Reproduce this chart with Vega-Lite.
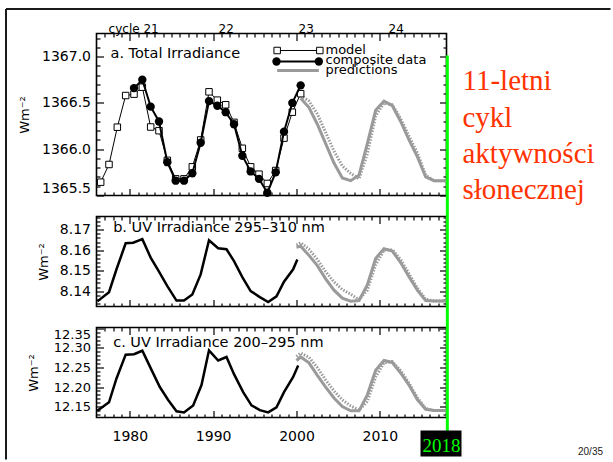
{
  "$schema": "https://vega.github.io/schema/vega-lite/v6.json",
  "background": "white",
  "padding": {"left": 3.5, "top": 6.5, "right": 0, "bottom": 0},
  "autosize": {"type": "pad"},
  "bounds": "flush",
  "spacing": 21,
  "datasets": {
    "one": [{"k": 1}],
    "tsiModel": [
      {"year": 1976.5, "value": 1365.644}, {"year": 1977.5, "value": 1365.835}, {"year": 1978.5, "value": 1366.238},
      {"year": 1979.5, "value": 1366.58}, {"year": 1980.5, "value": 1366.595}, {"year": 1981.5, "value": 1366.67},
      {"year": 1982.5, "value": 1366.24}, {"year": 1983.5, "value": 1366.2}, {"year": 1984.5, "value": 1365.88},
      {"year": 1985.5, "value": 1365.68}, {"year": 1986.5, "value": 1365.68}, {"year": 1987.5, "value": 1365.81},
      {"year": 1988.5, "value": 1366.1}, {"year": 1989.5, "value": 1366.62}, {"year": 1990.5, "value": 1366.53},
      {"year": 1991.5, "value": 1366.48}, {"year": 1992.5, "value": 1366.29}, {"year": 1993.5, "value": 1366.01},
      {"year": 1994.5, "value": 1365.81}, {"year": 1995.5, "value": 1365.73}, {"year": 1996.5, "value": 1365.63},
      {"year": 1997.5, "value": 1365.77}, {"year": 1998.5, "value": 1366.12}, {"year": 1999.5, "value": 1366.4},
      {"year": 2000.5, "value": 1366.6}
    ],
    "tsiComp": [
      {"year": 1980.5, "value": 1366.66}, {"year": 1981.5, "value": 1366.75}, {"year": 1982.5, "value": 1366.46},
      {"year": 1983.5, "value": 1366.3}, {"year": 1984.5, "value": 1365.86}, {"year": 1985.5, "value": 1365.66},
      {"year": 1986.5, "value": 1365.66}, {"year": 1987.5, "value": 1365.74}, {"year": 1988.5, "value": 1366.07},
      {"year": 1989.5, "value": 1366.52}, {"year": 1990.5, "value": 1366.47}, {"year": 1991.5, "value": 1366.4},
      {"year": 1992.5, "value": 1366.27}, {"year": 1993.5, "value": 1365.93}, {"year": 1994.5, "value": 1365.76},
      {"year": 1995.5, "value": 1365.68}, {"year": 1996.5, "value": 1365.53}, {"year": 1997.5, "value": 1365.75},
      {"year": 1998.5, "value": 1366.19}, {"year": 1999.5, "value": 1366.5}, {"year": 2000.5, "value": 1366.69}
    ],
    "tsiPred1": [
      {"year": 2000.5, "value": 1366.55}, {"year": 2001.5, "value": 1366.45}, {"year": 2002.5, "value": 1366.27},
      {"year": 2003.5, "value": 1366.06}, {"year": 2004.5, "value": 1365.85}, {"year": 2005.5, "value": 1365.69},
      {"year": 2006.5, "value": 1365.66}, {"year": 2007.5, "value": 1365.72}, {"year": 2008.5, "value": 1366.06},
      {"year": 2009.5, "value": 1366.42}, {"year": 2010.5, "value": 1366.52}, {"year": 2011.5, "value": 1366.47},
      {"year": 2012.5, "value": 1366.3}, {"year": 2013.5, "value": 1366.1}, {"year": 2014.5, "value": 1365.92},
      {"year": 2015.5, "value": 1365.7}, {"year": 2016.5, "value": 1365.66}, {"year": 2017.5, "value": 1365.66},
      {"year": 2018.0, "value": 1365.66}
    ],
    "tsiPred2": [
      {"year": 2000.5, "value": 1366.58}, {"year": 2001.5, "value": 1366.52}, {"year": 2002.5, "value": 1366.38},
      {"year": 2003.5, "value": 1366.18}, {"year": 2004.5, "value": 1365.98}, {"year": 2005.5, "value": 1365.82},
      {"year": 2006.5, "value": 1365.74}, {"year": 2007.5, "value": 1365.68}, {"year": 2008.5, "value": 1365.95},
      {"year": 2009.5, "value": 1366.36}, {"year": 2010.5, "value": 1366.5}, {"year": 2011.5, "value": 1366.48},
      {"year": 2012.5, "value": 1366.33}, {"year": 2013.5, "value": 1366.14}, {"year": 2014.5, "value": 1365.96},
      {"year": 2015.5, "value": 1365.72}, {"year": 2016.5, "value": 1365.66}, {"year": 2017.5, "value": 1365.66},
      {"year": 2018.0, "value": 1365.66}
    ],
    "uvbData": [
      {"year": 1976.1, "value": 8.135}, {"year": 1977.5, "value": 8.1395}, {"year": 1978.4, "value": 8.1507},
      {"year": 1979.5, "value": 8.1634}, {"year": 1980.4, "value": 8.1637}, {"year": 1981.5, "value": 8.1654},
      {"year": 1982.5, "value": 8.1564}, {"year": 1983.5, "value": 8.1495}, {"year": 1984.5, "value": 8.1425},
      {"year": 1985.6, "value": 8.1354}, {"year": 1986.5, "value": 8.1354}, {"year": 1987.5, "value": 8.1384},
      {"year": 1988.5, "value": 8.1482}, {"year": 1989.5, "value": 8.1649}, {"year": 1990.6, "value": 8.161},
      {"year": 1991.6, "value": 8.1605}, {"year": 1992.5, "value": 8.1547}, {"year": 1993.5, "value": 8.1469},
      {"year": 1994.5, "value": 8.14}, {"year": 1995.6, "value": 8.1371}, {"year": 1996.6, "value": 8.1347},
      {"year": 1997.6, "value": 8.1375}, {"year": 1998.5, "value": 8.1446}, {"year": 1999.6, "value": 8.1507},
      {"year": 2000.1, "value": 8.1555}
    ],
    "uvbPred1": [
      {"year": 2000.0, "value": 8.1615}, {"year": 2000.5, "value": 8.162}, {"year": 2001.5, "value": 8.1575},
      {"year": 2002.5, "value": 8.1525}, {"year": 2003.5, "value": 8.146}, {"year": 2004.5, "value": 8.1405},
      {"year": 2005.5, "value": 8.1366}, {"year": 2006.5, "value": 8.1351}, {"year": 2007.5, "value": 8.1354},
      {"year": 2008.5, "value": 8.143}, {"year": 2009.5, "value": 8.156}, {"year": 2010.5, "value": 8.1608},
      {"year": 2011.5, "value": 8.1596}, {"year": 2012.5, "value": 8.154}, {"year": 2013.5, "value": 8.147},
      {"year": 2014.5, "value": 8.1405}, {"year": 2015.5, "value": 8.1354}, {"year": 2016.5, "value": 8.1352},
      {"year": 2017.5, "value": 8.1352}, {"year": 2018.0, "value": 8.1352}
    ],
    "uvbPred2": [
      {"year": 2000.0, "value": 8.1625}, {"year": 2000.5, "value": 8.1637}, {"year": 2001.5, "value": 8.1605},
      {"year": 2002.5, "value": 8.1555}, {"year": 2003.5, "value": 8.1495}, {"year": 2004.5, "value": 8.1445},
      {"year": 2005.5, "value": 8.1408}, {"year": 2006.5, "value": 8.1385}, {"year": 2007.5, "value": 8.1358},
      {"year": 2008.5, "value": 8.1405}, {"year": 2009.5, "value": 8.153}, {"year": 2010.5, "value": 8.16},
      {"year": 2011.5, "value": 8.1602}, {"year": 2012.5, "value": 8.1555}, {"year": 2013.5, "value": 8.1485},
      {"year": 2014.5, "value": 8.1415}, {"year": 2015.5, "value": 8.136}, {"year": 2016.5, "value": 8.1352},
      {"year": 2017.5, "value": 8.1352}, {"year": 2018.0, "value": 8.1352}
    ],
    "uvcData": [
      {"year": 1976.1, "value": 12.139}, {"year": 1977.5, "value": 12.161}, {"year": 1978.4, "value": 12.222},
      {"year": 1979.5, "value": 12.283}, {"year": 1980.5, "value": 12.284}, {"year": 1981.5, "value": 12.293},
      {"year": 1982.6, "value": 12.244}, {"year": 1983.6, "value": 12.2}, {"year": 1984.6, "value": 12.167},
      {"year": 1985.6, "value": 12.138}, {"year": 1986.5, "value": 12.135}, {"year": 1987.6, "value": 12.153},
      {"year": 1988.6, "value": 12.205}, {"year": 1989.5, "value": 12.294}, {"year": 1990.6, "value": 12.268},
      {"year": 1991.6, "value": 12.277}, {"year": 1992.5, "value": 12.233}, {"year": 1993.6, "value": 12.187},
      {"year": 1994.6, "value": 12.153}, {"year": 1995.6, "value": 12.141}, {"year": 1996.6, "value": 12.135},
      {"year": 1997.6, "value": 12.148}, {"year": 1998.5, "value": 12.187}, {"year": 1999.6, "value": 12.226},
      {"year": 2000.2, "value": 12.255}
    ],
    "uvcPred1": [
      {"year": 2000.0, "value": 12.268}, {"year": 2000.5, "value": 12.277}, {"year": 2001.5, "value": 12.262},
      {"year": 2002.5, "value": 12.23}, {"year": 2003.5, "value": 12.2}, {"year": 2004.5, "value": 12.172},
      {"year": 2005.5, "value": 12.15}, {"year": 2006.5, "value": 12.139}, {"year": 2007.5, "value": 12.139},
      {"year": 2008.5, "value": 12.18}, {"year": 2009.5, "value": 12.243}, {"year": 2010.5, "value": 12.268},
      {"year": 2011.5, "value": 12.263}, {"year": 2012.5, "value": 12.236}, {"year": 2013.5, "value": 12.205},
      {"year": 2014.5, "value": 12.168}, {"year": 2015.5, "value": 12.143}, {"year": 2016.5, "value": 12.14},
      {"year": 2017.5, "value": 12.14}, {"year": 2018.0, "value": 12.14}
    ],
    "uvcPred2": [
      {"year": 2000.0, "value": 12.278}, {"year": 2000.5, "value": 12.287}, {"year": 2001.5, "value": 12.276},
      {"year": 2002.5, "value": 12.25}, {"year": 2003.5, "value": 12.218}, {"year": 2004.5, "value": 12.19},
      {"year": 2005.5, "value": 12.167}, {"year": 2006.5, "value": 12.152}, {"year": 2007.5, "value": 12.141},
      {"year": 2008.5, "value": 12.163}, {"year": 2009.5, "value": 12.226}, {"year": 2010.5, "value": 12.262},
      {"year": 2011.5, "value": 12.265}, {"year": 2012.5, "value": 12.242}, {"year": 2013.5, "value": 12.21},
      {"year": 2014.5, "value": 12.173}, {"year": 2015.5, "value": 12.145}, {"year": 2016.5, "value": 12.14},
      {"year": 2017.5, "value": 12.14}, {"year": 2018.0, "value": 12.14}
    ]
  },
  "vconcat": [
    {
      "width": 350,
      "height": 162,
      "resolve": {"axis": {"x": "independent", "y": "independent"}},
      "layer": [
        {
          "data": {"name": "tsiPred2"},
          "mark": {"type": "line", "color": "#9a9a9a", "strokeWidth": 3, "strokeDash": [1.5, 1.5]},
          "encoding": {
            "x": {"field": "year", "type": "quantitative", "scale": {"domain": [1976, 2018], "nice": false, "zero": false},
              "axis": {"orient": "bottom", "values": [1980, 1990, 2000, 2010], "labels": false, "tickSize": -7, "title": null}},
            "y": {"field": "value", "type": "quantitative", "scale": {"domain": [1365.5, 1367.25], "nice": false, "zero": false},
              "axis": {"orient": "left", "values": [1365.5, 1366, 1366.5, 1367], "format": ".1f", "ticks": false, "labelPadding": 6, "labelFlush": 3, "labelFontSize": 14, "title": "Wm⁻²", "titlePadding": 10}}
          }
        },
        {
          "data": {"name": "tsiPred1"},
          "mark": {"type": "line", "color": "#9a9a9a", "strokeWidth": 3},
          "encoding": {
            "x": {"field": "year", "type": "quantitative", "scale": {"domain": [1976, 2018], "nice": false, "zero": false},
              "axis": {"orient": "bottom", "values": [1977,1978,1979,1981,1982,1983,1984,1985,1986,1987,1988,1989,1991,1992,1993,1994,1995,1996,1997,1998,1999,2001,2002,2003,2004,2005,2006,2007,2008,2009,2011,2012,2013,2014,2015,2016,2017], "labels": false, "tickSize": -3.5, "title": null}},
            "y": {"field": "value", "type": "quantitative", "scale": {"domain": [1365.5, 1367.25], "nice": false, "zero": false},
              "axis": {"orient": "left", "values": [1365.5, 1366, 1366.5, 1367], "labels": false, "tickSize": -7, "title": null}}
          }
        },
        {
          "data": {"name": "tsiModel"},
          "mark": {"type": "line", "color": "#000", "strokeWidth": 1},
          "encoding": {
            "x": {"field": "year", "type": "quantitative", "scale": {"domain": [1976, 2018], "nice": false, "zero": false},
              "axis": {"orient": "top", "values": [1980, 1990, 2000, 2010], "labels": false, "tickSize": -7, "title": null}},
            "y": {"field": "value", "type": "quantitative", "scale": {"domain": [1365.5, 1367.25], "nice": false, "zero": false},
              "axis": {"orient": "left", "values": [1365.6,1365.7,1365.8,1365.9,1366.1,1366.2,1366.3,1366.4,1366.6,1366.7,1366.8,1366.9,1367.1,1367.2], "labels": false, "tickSize": -3.5, "title": null}}
          }
        },
        {
          "data": {"name": "tsiModel"},
          "mark": {"type": "point", "shape": "square", "filled": true, "fill": "#fff", "stroke": "#000", "strokeWidth": 1, "size": 42, "opacity": 1},
          "encoding": {
            "x": {"field": "year", "type": "quantitative", "scale": {"domain": [1976, 2018], "nice": false, "zero": false},
              "axis": {"orient": "top", "values": [1977,1978,1979,1981,1982,1983,1984,1985,1986,1987,1988,1989,1991,1992,1993,1994,1995,1996,1997,1998,1999,2001,2002,2003,2004,2005,2006,2007,2008,2009,2011,2012,2013,2014,2015,2016,2017], "labels": false, "tickSize": -3.5, "title": null}},
            "y": {"field": "value", "type": "quantitative", "scale": {"domain": [1365.5, 1367.25], "nice": false, "zero": false},
              "axis": {"orient": "right", "values": [1365.5, 1366, 1366.5, 1367], "labels": false, "tickSize": -7, "title": null}}
          }
        },
        {
          "data": {"name": "tsiComp"},
          "mark": {"type": "line", "color": "#000", "strokeWidth": 2},
          "encoding": {
            "x": {"field": "year", "type": "quantitative", "scale": {"domain": [1976, 2018], "nice": false, "zero": false},
              "axis": {"orient": "top", "values": [1980.4, 1991.5, 2001.1, 2011.9], "labelExpr": "datum.value < 1985 ? 'cycle 21' : datum.value < 1995 ? '22' : datum.value < 2005 ? '23' : '24'", "ticks": false, "labelFontSize": 12, "labelPadding": 1, "labelBaseline": "alphabetic", "labelOverlap": false, "title": null}},
            "y": {"field": "value", "type": "quantitative", "scale": {"domain": [1365.5, 1367.25], "nice": false, "zero": false},
              "axis": {"orient": "right", "values": [1365.6,1365.7,1365.8,1365.9,1366.1,1366.2,1366.3,1366.4,1366.6,1366.7,1366.8,1366.9,1367.1,1367.2], "labels": false, "tickSize": -3.5, "title": null}}
          }
        },
        {
          "data": {"name": "tsiComp"},
          "mark": {"type": "circle", "color": "#000", "size": 70, "opacity": 1},
          "encoding": {
            "x": {"field": "year", "type": "quantitative", "scale": {"domain": [1976, 2018], "nice": false, "zero": false}, "axis": null},
            "y": {"field": "value", "type": "quantitative", "scale": {"domain": [1365.5, 1367.25], "nice": false, "zero": false}, "axis": null}
          }
        },
        {
          "data": {"name": "one"},
          "mark": {"type": "text", "text": "a. Total Irradiance", "font": "DejaVu Sans", "fontSize": 14.5, "align": "left", "baseline": "alphabetic", "color": "#000"},
          "encoding": {"x": {"datum": 1977.68, "type": "quantitative", "axis": null}, "y": {"datum": 1366.9907, "type": "quantitative", "axis": null}}
        },
        {
          "data": {"name": "one"},
          "mark": {"type": "rule", "color": "#000", "strokeWidth": 1},
          "encoding": {"x": {"datum": 1997.68, "type": "quantitative", "axis": null}, "x2": {"datum": 2002.8}, "y": {"datum": 1367.0664, "type": "quantitative", "axis": null}}
        },
        {
          "data": {"name": "one"},
          "mark": {"type": "point", "shape": "square", "filled": true, "fill": "#fff", "stroke": "#000", "strokeWidth": 1, "size": 42, "opacity": 1},
          "encoding": {"x": {"datum": 1997.68, "type": "quantitative", "axis": null}, "y": {"datum": 1367.0664, "type": "quantitative", "axis": null}}
        },
        {
          "data": {"name": "one"},
          "mark": {"type": "point", "shape": "square", "filled": true, "fill": "#fff", "stroke": "#000", "strokeWidth": 1, "size": 42, "opacity": 1},
          "encoding": {"x": {"datum": 2002.8, "type": "quantitative", "axis": null}, "y": {"datum": 1367.0664, "type": "quantitative", "axis": null}}
        },
        {
          "data": {"name": "one"},
          "mark": {"type": "rule", "color": "#000", "strokeWidth": 2},
          "encoding": {"x": {"datum": 1997.6, "type": "quantitative", "axis": null}, "x2": {"datum": 2002.68}, "y": {"datum": 1366.9475, "type": "quantitative", "axis": null}}
        },
        {
          "data": {"name": "one"},
          "mark": {"type": "circle", "color": "#000", "size": 70, "opacity": 1},
          "encoding": {"x": {"datum": 1997.6, "type": "quantitative", "axis": null}, "y": {"datum": 1366.9475, "type": "quantitative", "axis": null}}
        },
        {
          "data": {"name": "one"},
          "mark": {"type": "circle", "color": "#000", "size": 70, "opacity": 1},
          "encoding": {"x": {"datum": 2002.68, "type": "quantitative", "axis": null}, "y": {"datum": 1366.9475, "type": "quantitative", "axis": null}}
        },
        {
          "data": {"name": "one"},
          "mark": {"type": "rule", "color": "#9a9a9a", "strokeWidth": 3},
          "encoding": {"x": {"datum": 1997.68, "type": "quantitative", "axis": null}, "x2": {"datum": 2002.68}, "y": {"datum": 1366.8503, "type": "quantitative", "axis": null}}
        },
        {
          "data": {"name": "one"},
          "mark": {"type": "text", "text": ["model", "composite data", "predictions"], "lineHeight": 10, "font": "DejaVu Sans", "fontSize": 13, "align": "left", "baseline": "alphabetic", "color": "#000"},
          "encoding": {"x": {"datum": 2003.48, "type": "quantitative", "axis": null}, "y": {"datum": 1367.0285, "type": "quantitative", "axis": null}}
        }
      ]
    },
    {
      "width": 350,
      "height": 90,
      "resolve": {"axis": {"x": "independent", "y": "independent"}},
      "layer": [
        {
          "data": {"name": "uvbPred2"},
          "mark": {"type": "line", "color": "#9a9a9a", "strokeWidth": 3, "strokeDash": [1.5, 1.5]},
          "encoding": {
            "x": {"field": "year", "type": "quantitative", "scale": {"domain": [1976, 2018], "nice": false, "zero": false},
              "axis": {"orient": "bottom", "values": [1980, 1990, 2000, 2010], "labels": false, "tickSize": -7, "title": null}},
            "y": {"field": "value", "type": "quantitative", "scale": {"domain": [8.1325, 8.1765], "nice": false, "zero": false},
              "axis": {"orient": "left", "values": [8.14, 8.15, 8.16, 8.17], "format": ".2f", "ticks": false, "labelPadding": 6, "labelFlush": 3, "labelFontSize": 14, "title": "Wm⁻²", "titlePadding": 9}}
          }
        },
        {
          "data": {"name": "uvbPred1"},
          "mark": {"type": "line", "color": "#9a9a9a", "strokeWidth": 3},
          "encoding": {
            "x": {"field": "year", "type": "quantitative", "scale": {"domain": [1976, 2018], "nice": false, "zero": false},
              "axis": {"orient": "bottom", "values": [1977,1978,1979,1981,1982,1983,1984,1985,1986,1987,1988,1989,1991,1992,1993,1994,1995,1996,1997,1998,1999,2001,2002,2003,2004,2005,2006,2007,2008,2009,2011,2012,2013,2014,2015,2016,2017], "labels": false, "tickSize": -3.5, "title": null}},
            "y": {"field": "value", "type": "quantitative", "scale": {"domain": [8.1325, 8.1765], "nice": false, "zero": false},
              "axis": {"orient": "left", "values": [8.14, 8.15, 8.16, 8.17], "labels": false, "tickSize": -7, "title": null}}
          }
        },
        {
          "data": {"name": "uvbData"},
          "mark": {"type": "line", "color": "#000", "strokeWidth": 2.5},
          "encoding": {
            "x": {"field": "year", "type": "quantitative", "scale": {"domain": [1976, 2018], "nice": false, "zero": false},
              "axis": {"orient": "top", "values": [1980, 1990, 2000, 2010], "labels": false, "tickSize": -7, "title": null}},
            "y": {"field": "value", "type": "quantitative", "scale": {"domain": [8.1325, 8.1765], "nice": false, "zero": false},
              "axis": {"orient": "left", "values": [8.134,8.136,8.138,8.142,8.144,8.146,8.148,8.152,8.154,8.156,8.158,8.162,8.164,8.166,8.168,8.172,8.174,8.176], "labels": false, "tickSize": -3.5, "title": null}}
          }
        },
        {
          "data": {"name": "uvbData"},
          "mark": {"type": "point", "opacity": 0},
          "encoding": {
            "x": {"field": "year", "type": "quantitative", "scale": {"domain": [1976, 2018], "nice": false, "zero": false},
              "axis": {"orient": "top", "values": [1977,1978,1979,1981,1982,1983,1984,1985,1986,1987,1988,1989,1991,1992,1993,1994,1995,1996,1997,1998,1999,2001,2002,2003,2004,2005,2006,2007,2008,2009,2011,2012,2013,2014,2015,2016,2017], "labels": false, "tickSize": -3.5, "title": null}},
            "y": {"field": "value", "type": "quantitative", "scale": {"domain": [8.1325, 8.1765], "nice": false, "zero": false},
              "axis": {"orient": "right", "values": [8.14, 8.15, 8.16, 8.17], "labels": false, "tickSize": -7, "title": null}}
          }
        },
        {
          "data": {"name": "uvbData"},
          "mark": {"type": "point", "opacity": 0},
          "encoding": {
            "x": {"field": "year", "type": "quantitative", "scale": {"domain": [1976, 2018], "nice": false, "zero": false}, "axis": null},
            "y": {"field": "value", "type": "quantitative", "scale": {"domain": [8.1325, 8.1765], "nice": false, "zero": false},
              "axis": {"orient": "right", "values": [8.134,8.136,8.138,8.142,8.144,8.146,8.148,8.152,8.154,8.156,8.158,8.162,8.164,8.166,8.168,8.172,8.174,8.176], "labels": false, "tickSize": -3.5, "title": null}}
          }
        },
        {
          "data": {"name": "one"},
          "mark": {"type": "text", "text": "b. UV Irradiance 295–310 nm", "font": "DejaVu Sans", "fontSize": 14.5, "align": "left", "baseline": "alphabetic", "color": "#000"},
          "encoding": {"x": {"datum": 1978.0, "type": "quantitative", "axis": null}, "y": {"datum": 8.1688, "type": "quantitative", "axis": null}}
        }
      ]
    },
    {
      "width": 350,
      "height": 90,
      "resolve": {"axis": {"x": "independent", "y": "independent"}},
      "layer": [
        {
          "data": {"name": "uvcPred2"},
          "mark": {"type": "line", "color": "#9a9a9a", "strokeWidth": 3, "strokeDash": [1.5, 1.5]},
          "encoding": {
            "x": {"field": "year", "type": "quantitative", "scale": {"domain": [1976, 2018], "nice": false, "zero": false},
              "axis": {"orient": "bottom", "values": [1980, 1990, 2000, 2010], "format": "d", "ticks": false, "labelPadding": 12, "labelFontSize": 14, "labelBaseline": "top", "title": null}},
            "y": {"field": "value", "type": "quantitative", "scale": {"domain": [12.122, 12.3525], "nice": false, "zero": false},
              "axis": {"orient": "left", "values": [12.15, 12.2, 12.25, 12.3, 12.35], "format": ".2f", "ticks": false, "labelPadding": 6, "labelFlush": 3, "labelFontSize": 13, "title": "Wm⁻²", "titlePadding": 13}}
          }
        },
        {
          "data": {"name": "uvcPred1"},
          "mark": {"type": "line", "color": "#9a9a9a", "strokeWidth": 3},
          "encoding": {
            "x": {"field": "year", "type": "quantitative", "scale": {"domain": [1976, 2018], "nice": false, "zero": false},
              "axis": {"orient": "bottom", "values": [1980, 1990, 2000, 2010], "labels": false, "tickSize": -7, "title": null}},
            "y": {"field": "value", "type": "quantitative", "scale": {"domain": [12.122, 12.3525], "nice": false, "zero": false},
              "axis": {"orient": "left", "values": [12.15, 12.2, 12.25, 12.3, 12.35], "labels": false, "tickSize": -7, "title": null}}
          }
        },
        {
          "data": {"name": "uvcData"},
          "mark": {"type": "line", "color": "#000", "strokeWidth": 2.5},
          "encoding": {
            "x": {"field": "year", "type": "quantitative", "scale": {"domain": [1976, 2018], "nice": false, "zero": false},
              "axis": {"orient": "bottom", "values": [1977,1978,1979,1981,1982,1983,1984,1985,1986,1987,1988,1989,1991,1992,1993,1994,1995,1996,1997,1998,1999,2001,2002,2003,2004,2005,2006,2007,2008,2009,2011,2012,2013,2014,2015,2016,2017], "labels": false, "tickSize": -3.5, "title": null}},
            "y": {"field": "value", "type": "quantitative", "scale": {"domain": [12.122, 12.3525], "nice": false, "zero": false},
              "axis": {"orient": "left", "values": [12.13,12.14,12.16,12.17,12.18,12.19,12.21,12.22,12.23,12.24,12.26,12.27,12.28,12.29,12.31,12.32,12.33,12.34], "labels": false, "tickSize": -3.5, "title": null}}
          }
        },
        {
          "data": {"name": "uvcData"},
          "mark": {"type": "point", "opacity": 0},
          "encoding": {
            "x": {"field": "year", "type": "quantitative", "scale": {"domain": [1976, 2018], "nice": false, "zero": false},
              "axis": {"orient": "top", "values": [1980, 1990, 2000, 2010], "labels": false, "tickSize": -7, "title": null}},
            "y": {"field": "value", "type": "quantitative", "scale": {"domain": [12.122, 12.3525], "nice": false, "zero": false},
              "axis": {"orient": "right", "values": [12.15, 12.2, 12.25, 12.3, 12.35], "labels": false, "tickSize": -7, "title": null}}
          }
        },
        {
          "data": {"name": "uvcData"},
          "mark": {"type": "point", "opacity": 0},
          "encoding": {
            "x": {"field": "year", "type": "quantitative", "scale": {"domain": [1976, 2018], "nice": false, "zero": false},
              "axis": {"orient": "top", "values": [1977,1978,1979,1981,1982,1983,1984,1985,1986,1987,1988,1989,1991,1992,1993,1994,1995,1996,1997,1998,1999,2001,2002,2003,2004,2005,2006,2007,2008,2009,2011,2012,2013,2014,2015,2016,2017], "labels": false, "tickSize": -3.5, "title": null}},
            "y": {"field": "value", "type": "quantitative", "scale": {"domain": [12.122, 12.3525], "nice": false, "zero": false},
              "axis": {"orient": "right", "values": [12.13,12.14,12.16,12.17,12.18,12.19,12.21,12.22,12.23,12.24,12.26,12.27,12.28,12.29,12.31,12.32,12.33,12.34], "labels": false, "tickSize": -3.5, "title": null}}
          }
        },
        {
          "data": {"name": "one"},
          "mark": {"type": "text", "text": "c. UV Irradiance 200–295 nm", "font": "DejaVu Sans", "fontSize": 14.5, "align": "left", "baseline": "alphabetic", "color": "#000"},
          "encoding": {"x": {"datum": 1978.0, "type": "quantitative", "axis": null}, "y": {"datum": 12.3038, "type": "quantitative", "axis": null}}
        },
        {
          "data": {"name": "one"},
          "mark": {"type": "rule", "color": "#1a1a1a", "strokeWidth": 2},
          "encoding": {"x": {"datum": 1965.14, "type": "quantitative", "axis": null}, "x2": {"datum": 2037.68}, "y": {"datum": 13.1683, "type": "quantitative", "axis": null}}
        },
        {
          "data": {"name": "one"},
          "mark": {"type": "rule", "color": "#1a1a1a", "strokeWidth": 2},
          "encoding": {"x": {"datum": 1965.14, "type": "quantitative", "axis": null}, "y": {"datum": 13.1683, "type": "quantitative", "axis": null}, "y2": {"datum": 12.0144}}
        },
        {
          "data": {"name": "one"},
          "mark": {"type": "rule", "color": "#00ff00", "strokeWidth": 3},
          "encoding": {"x": {"datum": 2018.1, "type": "quantitative", "axis": null}, "y": {"datum": 13.0492, "type": "quantitative", "axis": null}, "y2": {"datum": 12.0861}}
        },
        {
          "data": {"name": "one"},
          "mark": {"type": "rect", "color": "#000"},
          "encoding": {"x": {"datum": 2014.88, "type": "quantitative", "axis": null}, "x2": {"datum": 2019.8}, "y": {"datum": 12.0887, "type": "quantitative", "axis": null}, "y2": {"datum": 12.0221}}
        },
        {
          "data": {"name": "one"},
          "mark": {"type": "text", "text": "2018", "font": "Liberation Serif", "fontSize": 19, "align": "center", "baseline": "alphabetic", "color": "#00ff00"},
          "encoding": {"x": {"datum": 2017.4, "type": "quantitative", "axis": null}, "y": {"datum": 12.0331, "type": "quantitative", "axis": null}}
        },
        {
          "data": {"name": "one"},
          "mark": {"type": "text", "text": "20/35", "font": "Liberation Sans", "fontSize": 10, "align": "center", "baseline": "alphabetic", "color": "#222"},
          "encoding": {"x": {"datum": 2035.28, "type": "quantitative", "axis": null}, "y": {"datum": 12.0247, "type": "quantitative", "axis": null}}
        },
        {
          "data": {"name": "one"},
          "mark": {"type": "text", "text": ["11-letni", "cykl", "aktywności", "słonecznej"], "lineHeight": 36.3, "font": "Liberation Serif", "fontSize": 29, "align": "left", "baseline": "alphabetic", "color": "#ff3300"},
          "encoding": {"x": {"datum": 2019.92, "type": "quantitative", "axis": null}, "y": {"datum": 12.9595, "type": "quantitative", "axis": null}}
        }
      ]
    }
  ],
  "config": {
    "view": {"stroke": "#000", "strokeWidth": 1.6},
    "axis": {
      "labelFont": "DejaVu Sans", "labelFontSize": 14, "labelColor": "#000",
      "titleFont": "DejaVu Sans", "titleFontSize": 13, "titleFontWeight": "normal", "titleColor": "#000",
      "tickColor": "#000", "tickWidth": 1.2, "domain": false, "grid": false
    }
  }
}
